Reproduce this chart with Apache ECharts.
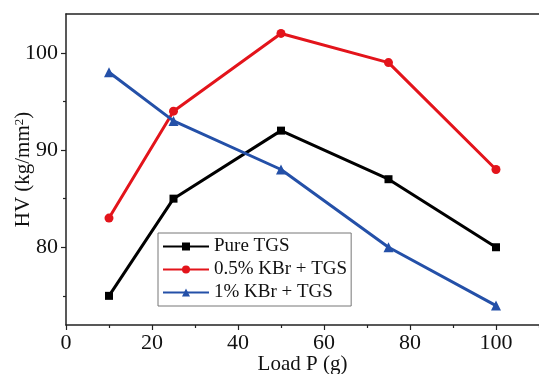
<!DOCTYPE html>
<html>
<head>
<meta charset="utf-8">
<script src="https://cdn.jsdelivr.net/npm/echarts@6/dist/echarts.min.js"></script>
<style>
  html, body { margin: 0; padding: 0; background: #fff; }
  #chart { width: 539px; height: 374px; }
</style>
</head>
<body>
<div id="chart"></div>
<script>
// loads (g) and microhardness values
var loads = [10, 25, 50, 75, 100];
var pureTGS = [75, 85, 92, 87, 80];
var kbr05 = [83, 94, 102, 99, 88];
var kbr1 = [98, 93, 88, 80, 74];

var xTicks = [0, 20, 40, 60, 80, 100];
var xMinor = [10, 30, 50, 70, 90, 110];
var yTicks = [80, 90, 100];
var yMinor = [75, 85, 95];

var serif = 'Liberation Serif';
var axisColor = '#222';

var pairs = function (ys) {
    return loads.map(function (x, i) { return [x, ys[i]]; });
};

var mkSeries = function (name, ys, color, symbol, size) {
    return {
        name: name,
        type: 'line',
        data: pairs(ys),
        symbol: symbol,
        symbolSize: size,
        color: color,
        lineStyle: { width: 3, color: color },
        itemStyle: { color: color }
    };
};

var chart = echarts.init(document.getElementById('chart'));
chart.setOption({
    animation: false,
    grid: { left: 66, top: 14, right: 0, bottom: 49, outerBoundsMode: 'none', containLabel: false },
    legend: {
        orient: 'vertical',
        left: 158,
        top: 233,
        backgroundColor: '#fff',
        borderColor: '#777',
        borderWidth: 1,
        padding: [4, 4, 4, 4],
        itemWidth: 46,
        itemHeight: 10,
        itemGap: 4,
        textStyle: { fontFamily: serif, fontSize: 19, color: '#111' }
    },
    xAxis: [{
        type: 'value',
        min: 0, max: 110,
        name: 'Load P (g)',
        nameLocation: 'middle',
        nameGap: 29,
        nameMoveOverlap: false,
        nameTextStyle: { fontFamily: serif, fontSize: 21, color: '#111' },
        axisLine: { lineStyle: { color: axisColor, width: 1.5 } },
        axisTick: { customValues: xTicks, length: 5, lineStyle: { color: axisColor, width: 1.2 } },
        axisLabel: { customValues: xTicks, margin: 7, fontFamily: serif, fontSize: 22, color: '#111' },
        splitLine: { show: false }
    }, {
        type: 'value',
        min: 0, max: 110,
        position: 'bottom',
        axisLine: { show: false },
        axisTick: { customValues: xMinor, length: 3, lineStyle: { color: axisColor, width: 1.2 } },
        axisLabel: { show: false },
        splitLine: { show: false }
    }, {
        type: 'value',
        min: 0, max: 110,
        position: 'top',
        axisLine: { lineStyle: { color: axisColor, width: 1.5 } },
        axisTick: { show: false },
        axisLabel: { show: false },
        splitLine: { show: false }
    }],
    yAxis: [{
        type: 'value',
        min: 72, max: 104,
        name: 'HV (kg/mm{sup|2})',
        nameLocation: 'middle',
        nameGap: 32,
        nameMoveOverlap: false,
        nameTextStyle: {
            fontFamily: serif, fontSize: 21, color: '#111',
            rich: { sup: { fontFamily: serif, fontSize: 13, color: '#111', verticalAlign: 'top', padding: [0, 0, 8, 0] } }
        },
        axisLine: { show: true, lineStyle: { color: axisColor, width: 1.5 } },
        axisTick: { customValues: yTicks, length: 5, lineStyle: { color: axisColor, width: 1.2 } },
        axisLabel: { customValues: yTicks, margin: 8, fontFamily: serif, fontSize: 22, color: '#111' },
        splitLine: { show: false }
    }, {
        type: 'value',
        min: 72, max: 104,
        position: 'left',
        axisLine: { show: false },
        axisTick: { show: true, customValues: yMinor, length: 3, lineStyle: { color: axisColor, width: 1.2 } },
        axisLabel: { show: false },
        splitLine: { show: false }
    }],
    series: [
        mkSeries('Pure TGS', pureTGS, '#000000', 'rect', 8),
        mkSeries('0.5% KBr + TGS', kbr05, '#e3141b', 'circle', 9),
        mkSeries('1% KBr + TGS', kbr1, '#2450a8', 'triangle', 10)
    ]
});
</script>
</body>
</html>
